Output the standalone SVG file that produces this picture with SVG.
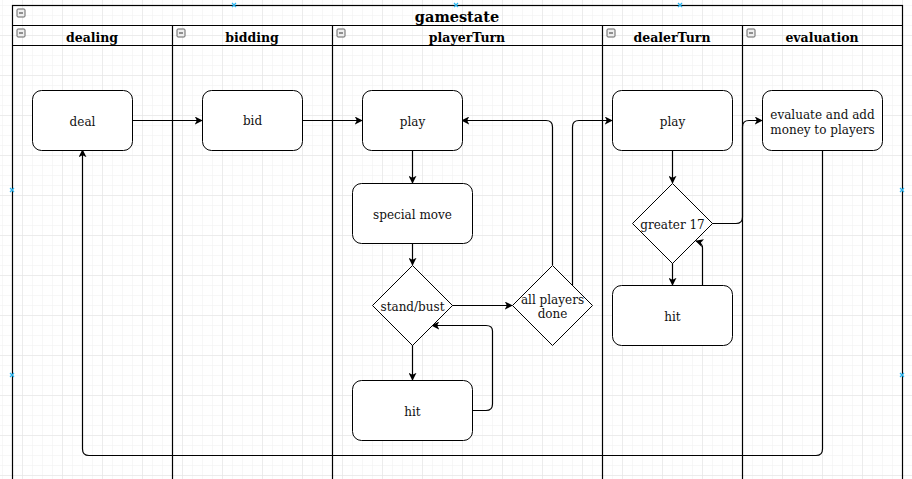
<svg xmlns="http://www.w3.org/2000/svg" width="912" height="479" viewBox="0 0 912 479">
<style>
.lane{fill:none;stroke:#000;stroke-width:1.2}
.node{fill:#fff;stroke:#000;stroke-width:1}
.lbl{font-family:"DejaVu Serif","Liberation Serif",serif;font-size:12px;fill:#111;text-anchor:middle;dominant-baseline:central}
.hdr{font-family:"DejaVu Serif","Liberation Serif",serif;font-size:12.5px;font-weight:bold;fill:#000;text-anchor:middle;dominant-baseline:central}
.edge{fill:none;stroke:#000;stroke-width:1.2;marker-end:url(#arr)}
.ico{fill:#eee;stroke:#666;stroke-width:1}
.hdl{fill:none;stroke:#29b6f2;stroke-width:1.2}
</style>
<defs>
<pattern id="gmin" width="10" height="10" patternUnits="userSpaceOnUse" x="2" y="5">
<path d="M0,0H10M0,0V10" fill="none" stroke="#f0f0f0" stroke-width="1"/>
</pattern>
<pattern id="gmaj" width="40" height="40" patternUnits="userSpaceOnUse" x="22" y="35">
<path d="M0,0H40M0,0V40" fill="none" stroke="#e2e2e2" stroke-width="1"/>
</pattern>
<marker id="arr" viewBox="0 0 10 10" refX="9" refY="5" markerWidth="8" markerHeight="8" markerUnits="userSpaceOnUse" orient="auto">
<path d="M0,0L10,5L0,10L2.5,5Z" fill="#000"/>
</marker>
<g id="minus"><rect x="0" y="0" width="8" height="8" rx="1" class="ico"/><path d="M2,4H6" stroke="#333" stroke-width="1"/></g>
</defs>
<rect width="912" height="479" fill="#fff"/>
<rect width="912" height="479" fill="url(#gmin)"/>
<rect width="912" height="479" fill="url(#gmaj)"/>

<g id="pool">
<rect x="12.5" y="5.5" width="890" height="490" class="lane"/>
<line x1="12.5" y1="25.5" x2="902.5" y2="25.5" class="lane"/>
<line x1="12.5" y1="45.5" x2="902.5" y2="45.5" class="lane"/>
<text x="457" y="16.5" class="hdr" style="font-size:14.5px">gamestate</text>
<use href="#minus" x="17" y="9"/>
</g>
<g id="lane-dealing">
<text x="92" y="37.5" class="hdr">dealing</text>
<use href="#minus" x="17" y="29"/>
</g>
<g id="lane-bidding">
<line x1="172.5" y1="25.5" x2="172.5" y2="479" class="lane"/>
<text x="252" y="37.5" class="hdr">bidding</text>
<use href="#minus" x="177" y="29"/>
</g>
<g id="lane-playerTurn">
<line x1="332.5" y1="25.5" x2="332.5" y2="479" class="lane"/>
<text x="467" y="37.5" class="hdr">playerTurn</text>
<use href="#minus" x="337" y="29"/>
</g>
<g id="lane-dealerTurn">
<line x1="602.5" y1="25.5" x2="602.5" y2="479" class="lane"/>
<text x="672" y="37.5" class="hdr">dealerTurn</text>
<use href="#minus" x="607" y="29"/>
</g>
<g id="lane-evaluation">
<line x1="742.5" y1="25.5" x2="742.5" y2="479" class="lane"/>
<text x="822" y="37.5" class="hdr">evaluation</text>
<use href="#minus" x="747" y="29"/>
</g>

<g id="connectors">
<path d="M132,120.5H202" class="edge"/>
<path d="M302,120.5H362" class="edge"/>
<path d="M412.5,150V183" class="edge"/>
<path d="M412.5,243V265" class="edge"/>
<path d="M412.5,345V380" class="edge"/>
<path d="M472,410.5H486Q492.5,410.5 492.5,404V331Q492.5,325.5 486,325.5H432" class="edge"/>
<path d="M452,305.5H512" class="edge"/>
<path d="M552.5,265V127Q552.5,120.5 546,120.5H462" class="edge"/>
<path d="M572.5,285V127Q572.5,120.5 579,120.5H612" class="edge"/>
<path d="M672.5,150V183" class="edge"/>
<path d="M672.5,263V285" class="edge"/>
<path d="M702.5,285V248Q702.5,243 696,241" class="edge"/>
<path d="M712,223.5H736Q742.5,223.5 742.5,217V127Q742.5,120.5 749,120.5H762" class="edge"/>
<path d="M822.5,150V449Q822.5,455.5 816,455.5H89Q82.5,455.5 82.5,449V150" class="edge"/>
</g>

<g id="deal"><rect x="32.5" y="90.5" width="100" height="60" rx="9" class="node"/><text x="82.5" y="122" class="lbl">deal</text></g>
<g id="bid"><rect x="202.5" y="90.5" width="100" height="60" rx="9" class="node"/><text x="252.5" y="121" class="lbl">bid</text></g>
<g id="player-play"><rect x="362.5" y="90.5" width="100" height="60" rx="9" class="node"/><text x="412.5" y="122" class="lbl">play</text></g>
<g id="special-move"><rect x="352.5" y="183.5" width="120" height="60" rx="9" class="node"/><text x="412.5" y="215" class="lbl">special move</text></g>
<g id="stand-bust"><path d="M412.5,265.5L452.5,305.5L412.5,345.5L372.5,305.5Z" class="node"/><text x="412.5" y="307" class="lbl">stand/bust</text></g>
<g id="all-players-done"><path d="M552.5,265.5L592.5,305.5L552.5,345.5L512.5,305.5Z" class="node"/><text x="552.5" y="300" class="lbl">all players</text><text x="552.5" y="314" class="lbl">done</text></g>
<g id="player-hit"><rect x="352.5" y="380.5" width="120" height="60" rx="9" class="node"/><text x="412.5" y="412" class="lbl">hit</text></g>
<g id="dealer-play"><rect x="612.5" y="90.5" width="120" height="60" rx="9" class="node"/><text x="672.5" y="122" class="lbl">play</text></g>
<g id="greater-17"><path d="M672.5,183.5L712.5,223.5L672.5,263.5L632.5,223.5Z" class="node"/><text x="672.5" y="225" class="lbl">greater 17</text></g>
<g id="dealer-hit"><rect x="612.5" y="285.5" width="120" height="60" rx="9" class="node"/><text x="672.5" y="317" class="lbl">hit</text></g>
<g id="evaluate"><rect x="762.5" y="90.5" width="120" height="60" rx="9" class="node"/><text x="822.5" y="115" class="lbl">evaluate and add</text><text x="822.5" y="130" class="lbl">money to players</text></g>

<g id="handles">
<path d="M232,3L236,7M236,3L232,7" class="hdl"/>
<path d="M454,3L458,7M458,3L454,7" class="hdl"/>
<path d="M678,3L682,7M682,3L678,7" class="hdl"/>
<path d="M10,188L14,192M14,188L10,192" class="hdl"/>
<path d="M10,373L14,377M14,373L10,377" class="hdl"/>
<path d="M900,188L904,192M904,188L900,192" class="hdl"/>
<path d="M900,373L904,377M904,373L900,377" class="hdl"/>
</g>
</svg>
